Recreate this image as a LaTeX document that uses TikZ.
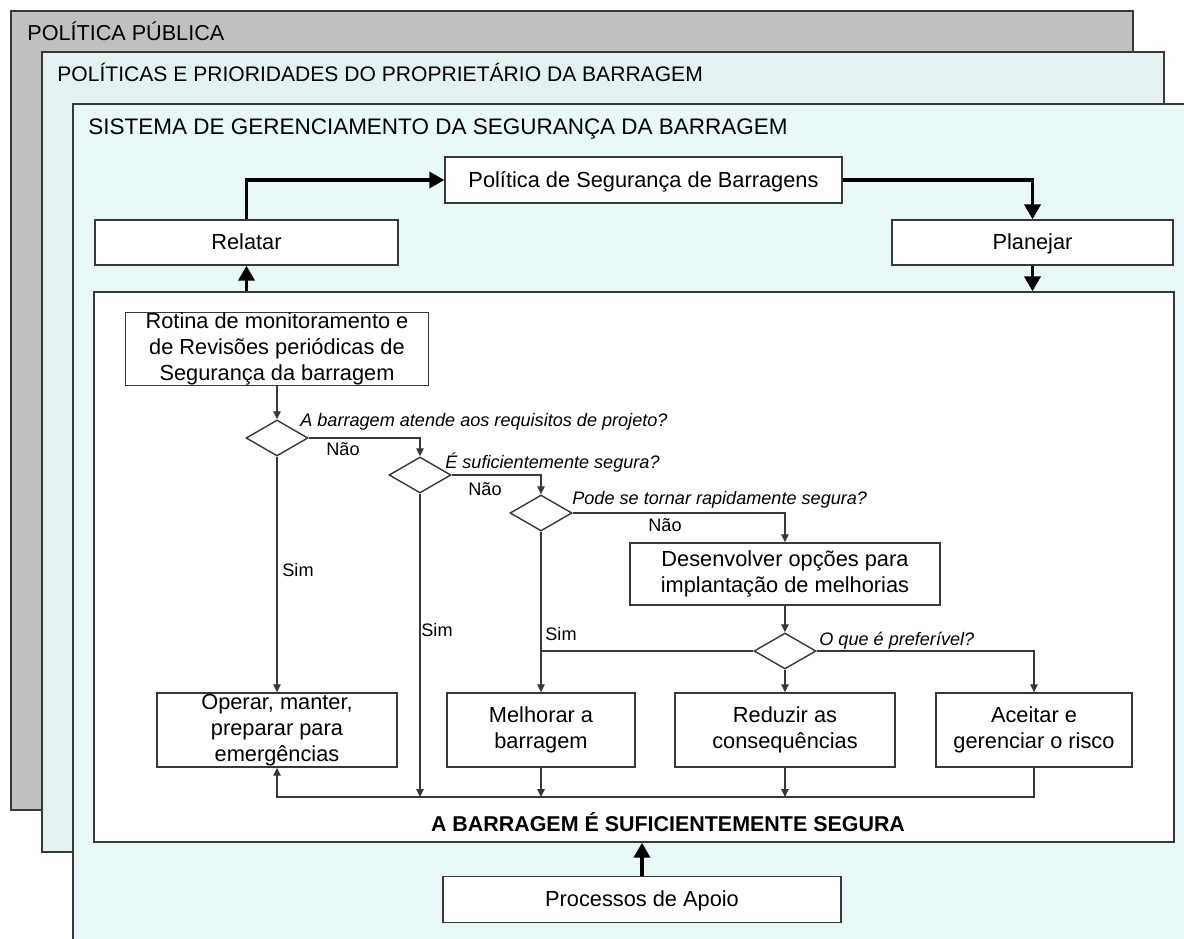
\documentclass[tikz,border=0pt]{standalone}
\usepackage{fontspec}
\setmainfont{Liberation Sans}
\usetikzlibrary{arrows.meta, positioning, shapes.geometric}

\definecolor{publicgray}{HTML}{C0C0C0}
\definecolor{ownerfill}{HTML}{E4F1F3}
\definecolor{systemfill}{HTML}{E8F8F8}
\definecolor{edgegray}{HTML}{383838}

\begin{document}
\begin{tikzpicture} [
    x=0.02cm, y=-0.02cm,
    frame/.style = {draw=edgegray, line width=1.1pt},
    layertitle/.style = {anchor=base west, inner sep=0pt},
    box/.style = {draw=edgegray, line width=0.8pt, fill=white,
        align=center, inner sep=0pt,
        font=\fontsize{12.4}{14.8}\selectfont},
    oneline/.style = {box, text height=8.9pt, text depth=0.6pt},
    decision/.style = {diamond, draw=edgegray, line width=0.8pt,
        fill=white, inner sep=0pt,
        minimum width=1.24cm, minimum height=0.72cm},
    question/.style = {anchor=west, inner sep=0pt,
        font=\fontsize{10.3}{12}\selectfont\itshape},
    answer/.style = {inner sep=0pt, font=\fontsize{10.3}{12}\selectfont},
    link/.style = {draw=edgegray, line width=0.7pt},
    flow/.style = {link, -{Triangle[length=1.6mm, width=1.5mm]}},
    heavy/.style = {line width=2.2pt, -{Triangle[length=3mm, width=3.2mm]}}]
    \useasboundingbox (0,0) rectangle (1184,939);
    \clip (0,0) rectangle (1184,939);

    % nested layers
    \draw [frame, fill=publicgray] (11,11) rectangle (1133,810);
    \node (pubtitle) [layertitle, font=\fontsize{12.3}{14}\selectfont]
        at (27,41) {POLÍTICA PÚBLICA};
    \draw [frame, fill=ownerfill] (42,52) rectangle (1164,852);
    \node (owntitle) [layertitle, font=\fontsize{12}{14}\selectfont]
        at (57,82) {POLÍTICAS E PRIORIDADES DO PROPRIETÁRIO DA BARRAGEM};
    \draw [frame, fill=systemfill] (73,104) rectangle (1200,960);
    \node (systitle) [layertitle, font=\fontsize{12.8}{14}\selectfont]
        at (88,135) {SISTEMA DE GERENCIAMENTO DA SEGURANÇA DA BARRAGEM};

    \node (area) [draw=edgegray, line width=0.9pt, fill=white,
        minimum width=21.6cm, minimum height=11cm, inner sep=0pt]
        at (634,567) {};

    \node (policy) [oneline, minimum width=7.94cm, minimum height=0.92cm]
        at (643.5,180) {Política de Segurança de Barragens};
    \node (report) [oneline, minimum width=6.06cm, minimum height=0.9cm]
        at (246.5,242.5) {Relatar};
    \node (plan) [oneline, minimum width=5.62cm, minimum height=0.9cm]
        at (1032.5,242.5) {Planejar};

    \node (routine) [box, minimum width=6.06cm, minimum height=1.46cm]
        at (277,349) {Rotina de monitoramento e\\de Revisões periódicas de\\Segurança da barragem};
    \node (q1) [decision] at (277,438) {};
    \node (q2) [decision] at (420,475) {};
    \node (q3) [decision] at (541,513) {};
    \node (options) [box, minimum width=6.2cm, minimum height=1.24cm]
        at (785,574) {Desenvolver opções para\\implantação de melhorias};
    \node (q4) [decision] at (785,651) {};

    \node (operate) [box, minimum width=4.8cm, minimum height=1.48cm]
        at (277,730) {Operar, manter,\\preparar para\\emergências};
    \node (improve) [box, minimum width=3.76cm, minimum height=1.48cm]
        at (541,730) {Melhorar a\\barragem};
    \node (reduce) [box, minimum width=4.4cm, minimum height=1.48cm]
        at (785,730) {Reduzir as\\consequências};
    \node (accept) [box, minimum width=3.92cm, minimum height=1.48cm]
        at (1034,730) {Aceitar e\\gerenciar o risco};
    \coordinate (join) at (277,797);

    \node (safe) [font=\bfseries\fontsize{12.2}{14}\selectfont]
        at (668,822) {A BARRAGEM É SUFICIENTEMENTE SEGURA};
    \node (support) [oneline, minimum width=7.96cm, minimum height=0.92cm]
        at (642,899.5) {Processos de Apoio};

    % questions and answers
    \node (ask1) [question] at (300,422) {A barragem atende aos requisitos de projeto?};
    \node (ask2) [question] at (445,463) {É suficientemente segura?};
    \node (ask3) [question] at (572,500) {Pode se tornar rapidamente segura?};
    \node (ask4) [question] at (819,641) {O que é preferível?};
    \node (no1) [answer] at (343,449) {Não};
    \node (no2) [answer] at (485,489) {Não};
    \node (no3) [answer] at (665,525) {Não};
    \node (yes1) [answer] at (298,570) {Sim};
    \node (yes2) [answer] at (437,630) {Sim};
    \node (yes3) [answer] at (561,634) {Sim};

    \draw [flow] (routine) -- (q1);
    \draw [flow] (q1.east) -| (q2.north);
    \draw [flow] (q1.south) -- (operate.north);
    \draw [flow] (q2.east) -| (q3.north);
    \draw [flow] (q2.south) -- (q2.south |- join);
    \draw [flow] (q3.east) -| (options.north);
    \draw [flow] (q3.south) -- (improve.north);
    \draw [flow] (options) -- (q4);
    \draw [link] (q4.west) -- (q4.west -| improve.north);
    \draw [flow] (q4.south) -- (reduce.north);
    \draw [flow] (q4.east) -| (accept.north);
    \draw [flow] (improve) -- (improve |- join);
    \draw [flow] (reduce) -- (reduce |- join);
    \draw [flow] (accept.south) |- (join) -- (operate.south);

    % management cycle
    \draw [heavy] (report.north) |- (policy.west);
    \draw [heavy] (policy.east) -| (plan.north);
    \draw [heavy] (plan.south) -- (plan.south |- area.north);
    \draw [heavy] (report.south |- area.north) -- (report.south);
    \draw [heavy] (support.north) -- (support.north |- area.south);
\end{tikzpicture}
\end{document}
